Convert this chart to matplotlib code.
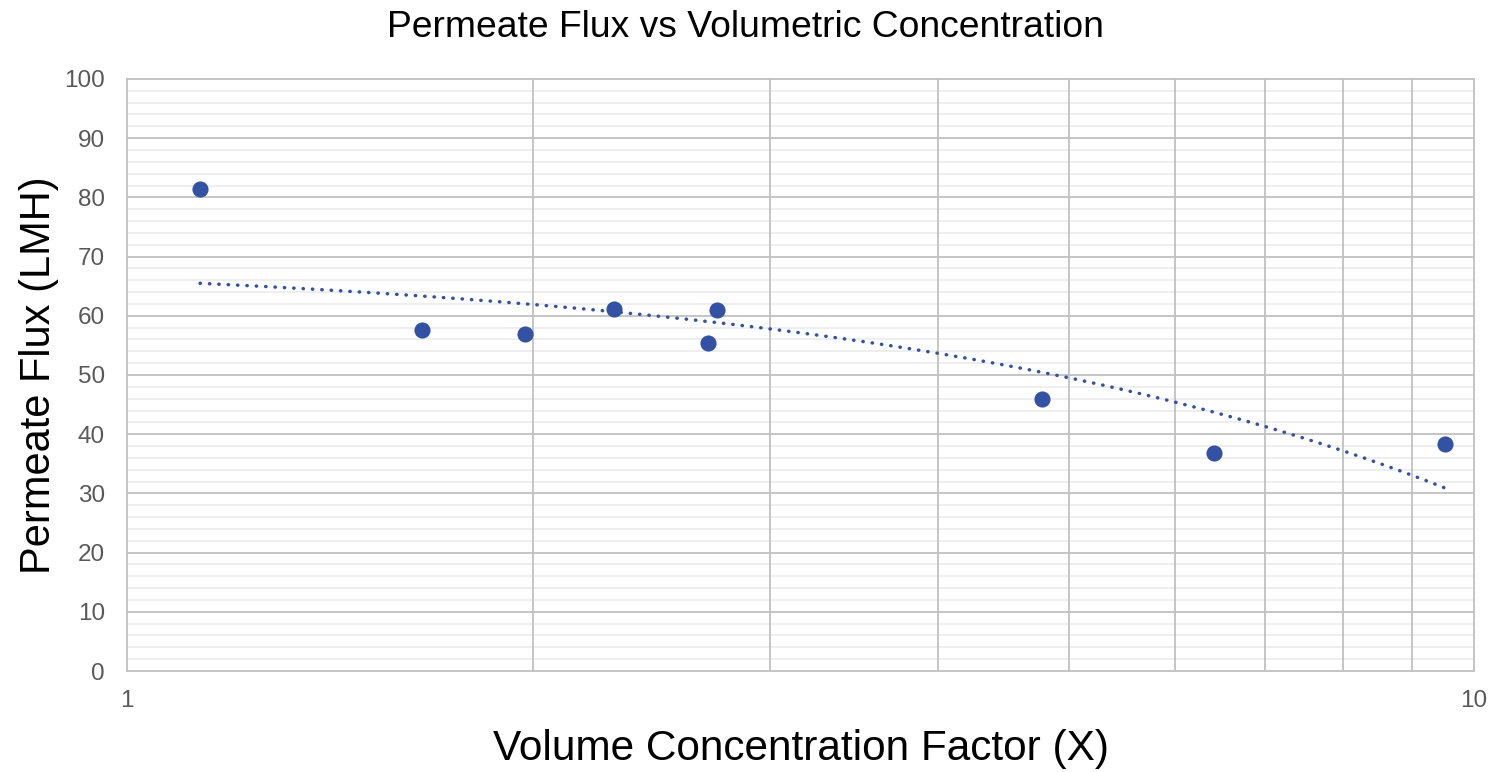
import numpy as np
import matplotlib
matplotlib.use("Agg")
import matplotlib.pyplot as plt
from matplotlib.ticker import FixedLocator, MultipleLocator, NullFormatter

# data
vcf = [1.133, 1.655, 1.975, 2.299, 2.700, 2.742, 4.778, 6.412, 9.517]
flux = [81.5, 57.6, 56.9, 61.1, 55.4, 60.9, 46.0, 36.8, 38.3]

blue = "#3352A3"
grid_major = "#C0C0C0"
grid_minor = "#EBEBEB"
txt = "#595959"

plt.rcParams["font.family"] = ["Liberation Sans", "DejaVu Sans"]

fig = plt.figure(figsize=(14.91, 7.72), dpi=100)
ax = fig.add_axes([0.0852, 0.1308, 0.9034, 0.7669])

ax.set_xscale("log")
ax.set_xlim(1, 10)
ax.set_ylim(0, 100)

ax.xaxis.set_major_locator(FixedLocator([1, 10]))
ax.xaxis.set_minor_locator(FixedLocator(range(2, 10)))
ax.xaxis.set_minor_formatter(NullFormatter())
ax.set_xticklabels(["1", "10"])
ax.yaxis.set_major_locator(MultipleLocator(10))
ax.yaxis.set_minor_locator(MultipleLocator(2))

# gridlines: light minor horizontals under, grey majors and verticals on top
for yv in np.arange(2, 100, 2):
    if yv % 10:
        ax.axhline(yv, color=grid_minor, linewidth=1.2, zorder=0.5)
for yv in range(10, 100, 10):
    ax.axhline(yv, color=grid_major, linewidth=1.3, zorder=1)
for xv in range(2, 10):
    ax.axvline(xv, color=grid_major, linewidth=1.3, zorder=1)

for s in ax.spines.values():
    s.set_color(grid_major)
    s.set_linewidth(1.3)

ax.tick_params(which="both", length=0, colors=txt, labelsize=17.5, pad=16)
ax.tick_params(axis="x", pad=14)

# linear trendline
k, b = np.polyfit(vcf, flux, 1)
xt = np.linspace(min(vcf), max(vcf), 200)
ax.plot(xt, k * xt + b, color=blue, linewidth=2.5,
        linestyle=(0, (0.1, 2.6)), dash_capstyle="round", zorder=2)

ax.scatter(vcf, flux, s=135, color=blue, zorder=3, linewidths=0)

fig.suptitle("Permeate Flux vs Volumetric Concentration", fontsize=26.8,
             color="black", x=0.5, y=0.965, va="center")
ax.set_xlabel("Volume Concentration Factor (X)", fontsize=30.5, labelpad=12)
ax.set_ylabel("Permeate Flux (LMH)", fontsize=30, labelpad=4)

fig.savefig("out.png", dpi=100)
